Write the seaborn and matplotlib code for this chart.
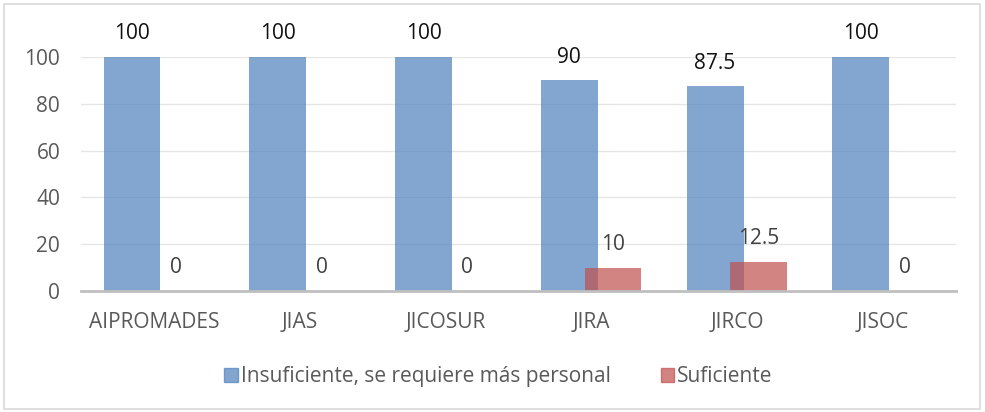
import pandas as pd
import seaborn as sns
import matplotlib.pyplot as plt
from matplotlib.patches import Rectangle

categories = ['AIPROMADES', 'JIAS', 'JICOSUR', 'JIRA', 'JIRCO', 'JISOC']
insuficiente = [100, 100, 100, 90, 87.5, 100]
suficiente = [0, 0, 0, 10, 12.5, 0]
series_names = ['Insuficiente, se requiere más personal', 'Suficiente']
colors = ['#4F81BD', '#C0504D']

df = pd.DataFrame({
    'cat': categories * 2,
    'serie': [series_names[0]] * 6 + [series_names[1]] * 6,
    'valor': insuficiente + suficiente,
})

sns.set_style('white')
plt.rcParams['font.family'] = ['Open Sans', 'DejaVu Sans']

fig = plt.figure(figsize=(9.85, 4.12), dpi=100)
ax = fig.add_axes([0.0822, 0.2937, 0.888, 0.568])

sns.barplot(data=df, x='cat', y='valor', hue='serie', palette=colors,
            saturation=1, width=0.6, alpha=0.7, linewidth=0,
            ax=ax, legend=False, errorbar=None)

# widen bars so neighbours overlap a little, like the original
for p in ax.patches:
    c = p.get_x() + p.get_width() / 2
    p.set_width(0.39)
    p.set_x(c - 0.195)

ax.set_xlim(-0.5, 5.5)
ax.set_ylim(0, 100)
ax.set_yticks([0, 20, 40, 60, 80, 100])
ax.yaxis.grid(True, color='#e6e6e6', linewidth=1)
ax.set_axisbelow(True)
for s in ['top', 'right', 'left']:
    ax.spines[s].set_visible(False)
ax.spines['bottom'].set_color('#bfbfbf')
ax.spines['bottom'].set_linewidth(2)
ax.tick_params(axis='y', length=0, pad=15, labelsize=15, labelcolor='#595959')
ax.tick_params(axis='x', length=0, pad=15, labelsize=15, labelcolor='#595959')
ax.set_xlabel('')
ax.set_ylabel('')

lab_colors = ['#111111', '#404040']
for cont, lc in zip(ax.containers, lab_colors):
    ax.bar_label(cont, labels=[f'{v:g}' for v in cont.datavalues],
                 padding=9, fontsize=15, color=lc)

handles = [Rectangle((0, 0), 1, 1, color=c, alpha=0.7) for c in colors]
fig.legend(handles, series_names, loc='center', bbox_to_anchor=(0.506, 0.085),
           ncol=2, frameon=False, fontsize=15, handlelength=0.65,
           handleheight=0.65, handletextpad=0.15, columnspacing=2.4,
           labelcolor='#595959')

fig.patches.append(Rectangle((0.004, 0.008), 0.991, 0.982, transform=fig.transFigure,
                             fill=False, edgecolor='#d9d9d9', linewidth=1.2))

fig.savefig('out.png', dpi=100)
